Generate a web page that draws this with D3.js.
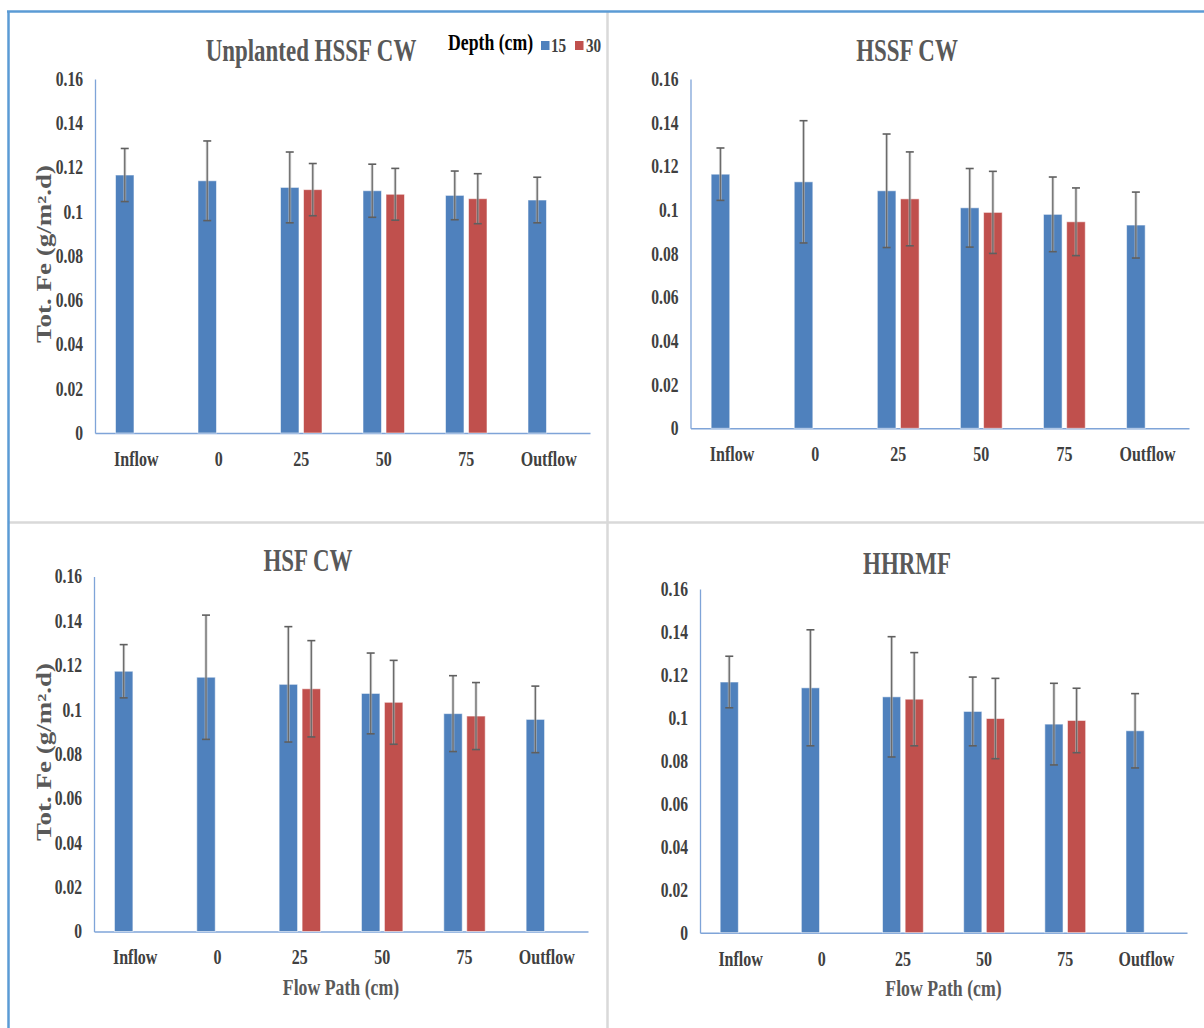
<!DOCTYPE html>
<html>
<head>
<meta charset="utf-8">
<script src="https://cdn.jsdelivr.net/npm/d3@7"></script>
<style>
  html, body { margin: 0; padding: 0; background: #ffffff; }
  svg { display: block; }
</style>
</head>
<body>
<svg id="chart" width="1204" height="1028"></svg>
<script>
// ---------------- DATA ----------------
const categories = ["Inflow", "0", "25", "50", "75", "Outflow"];
const yTicks = [0, 0.02, 0.04, 0.06, 0.08, 0.1, 0.12, 0.14, 0.16];
const legendTitle = "Depth (cm)";
const seriesNames = ["15", "30"];
const panelTitles = ["Unplanted HSSF CW", "HSSF CW", "HSF CW", "HHRMF"];
const yAxisTitle = "Tot. Fe (g/m\u00B2.d)";
const xAxisTitle = "Flow Path (cm)";

// Unplanted HSSF CW
const unplanted15    = [0.1166, 0.1140, 0.1110, 0.1095, 0.1074, 0.1053];
const unplanted15Err = [0.0120, 0.0180, 0.0160, 0.0120, 0.0110, 0.0103];
const unplanted30    = [null, null, 0.1100, 0.1079, 0.1059, null];
const unplanted30Err = [null, null, 0.0118, 0.0117, 0.0113, null];

// HSSF CW
const hssf15    = [0.1164, 0.1129, 0.1088, 0.1010, 0.0980, 0.0931];
const hssf15Err = [0.0120, 0.0280, 0.0260, 0.0180, 0.0171, 0.0151];
const hssf30    = [null, null, 0.1051, 0.0989, 0.0946, null];
const hssf30Err = [null, null, 0.0215, 0.0188, 0.0155, null];

// HSF CW
const hsf15    = [0.1173, 0.1146, 0.1114, 0.1073, 0.0982, 0.0956];
const hsf15Err = [0.0120, 0.0280, 0.0260, 0.0182, 0.0171, 0.0150];
const hsf30    = [null, null, 0.1094, 0.1033, 0.0971, null];
const hsf30Err = [null, null, 0.0217, 0.0189, 0.0151, null];

// HHRMF
const hhrmf15    = [0.1167, 0.1140, 0.1098, 0.1030, 0.0971, 0.0940];
const hhrmf15Err = [0.0120, 0.0270, 0.0280, 0.0160, 0.0190, 0.0173];
const hhrmf30    = [null, null, 0.1087, 0.0997, 0.0988, null];
const hhrmf30Err = [null, null, 0.0217, 0.0187, 0.0150, null];

// ---------------- STYLE / LAYOUT ----------------
const COLORS = ["#4F81BD", "#C0504D"];
const FONT = "'Liberation Serif', 'Times New Roman', serif";
const SX = 0.74;   // horizontal compression of titles
const SXL = 0.78;  // horizontal compression of tick / category labels

const panels = [
  { title: panelTitles[0], s15: unplanted15, e15: unplanted15Err, s30: unplanted30, e30: unplanted30Err,
    x0: 95, x1: 590, yTop: 79, yZero: 433, titleX: 311, titleY: 61, yTitle: true, xTitle: false, legend: true },
  { title: panelTitles[1], s15: hssf15, e15: hssf15Err, s30: hssf30, e30: hssf30Err,
    x0: 690.5, x1: 1189, yTop: 79, yZero: 428.3, titleX: 907, titleY: 61, yTitle: false, xTitle: false, legend: false },
  { title: panelTitles[2], s15: hsf15, e15: hsf15Err, s30: hsf30, e30: hsf30Err,
    x0: 94, x1: 588, yTop: 576.5, yZero: 931.5, titleX: 308, titleY: 571, yTitle: true, xTitle: true, legend: false },
  { title: panelTitles[3], s15: hhrmf15, e15: hhrmf15Err, s30: hhrmf30, e30: hhrmf30Err,
    x0: 700, x1: 1187, yTop: 589, yZero: 932.7, titleX: 907, titleY: 574, yTitle: false, xTitle: true, legend: false }
];

const svg = d3.select("#chart");

// frame
svg.append("rect").attr("x", 0).attr("y", 0).attr("width", 1204).attr("height", 1028).attr("fill", "#fff");
svg.append("line").attr("x1", 607.5).attr("x2", 607.5).attr("y1", 12).attr("y2", 1028)
  .attr("stroke", "#d9d9d9").attr("stroke-width", 2.5);
svg.append("line").attr("x1", 9).attr("x2", 1204).attr("y1", 522.5).attr("y2", 522.5)
  .attr("stroke", "#d9d9d9").attr("stroke-width", 2.5);
svg.append("line").attr("x1", 7).attr("x2", 1204).attr("y1", 11.5).attr("y2", 11.5)
  .attr("stroke", "#5B9BD5").attr("stroke-width", 2.5);
svg.append("line").attr("x1", 8.5).attr("x2", 8.5).attr("y1", 11).attr("y2", 1028)
  .attr("stroke", "#5B9BD5").attr("stroke-width", 2.5);

function label(parent, x, y, str, opts) {
  const o = Object.assign({ size: 16, fill: "#404040", anchor: "middle", sx: SX }, opts || {});
  return parent.append("text")
    .attr("transform", `translate(${x},${y}) scale(${o.sx},1)`)
    .attr("text-anchor", o.anchor)
    .attr("font-family", FONT)
    .attr("font-weight", "bold")
    .attr("font-size", o.size)
    .attr("fill", o.fill)
    .text(str);
}

panels.forEach(p => {
  const g = svg.append("g");
  const x = d3.scaleBand().domain(categories).range([p.x0, p.x1]).padding(0);
  const y = d3.scaleLinear().domain([0, 0.16]).range([p.yZero, p.yTop]);
  const bw = x.bandwidth();
  const barW = bw * 0.224;
  const off = bw * 0.1395;

  // axes
  const yAxis = d3.axisLeft(y).tickValues(yTicks).tickSize(0)
    .tickFormat(d => d === 0 ? "0" : String(+d.toFixed(2)));
  const ya = g.append("g").attr("transform", `translate(${p.x0},0)`).call(yAxis);
  ya.select(".domain").attr("stroke", "#7FA4D8").attr("stroke-width", 1.3);
  ya.selectAll("text")
    .attr("x", -12 / SXL)
    .attr("transform", `scale(${SXL},1)`)
    .attr("font-family", FONT).attr("font-weight", "bold").attr("font-size", 20)
    .attr("fill", "#404040");

  const xAxis = d3.axisBottom(x).tickSize(0);
  const xa = g.append("g").attr("transform", `translate(0,${p.yZero})`).call(xAxis);
  xa.select(".domain").attr("stroke", "#7FA4D8").attr("stroke-width", 1.5);
  xa.selectAll("text")
    .attr("y", 33).attr("dy", 0)
    .attr("transform", `scale(${SXL},1)`)
    .attr("font-family", FONT).attr("font-weight", "bold").attr("font-size", 20.5)
    .attr("fill", "#404040");

  // bars + error bars
  const series = [
    { vals: p.s15, errs: p.e15, color: COLORS[0], dx: -off },
    { vals: p.s30, errs: p.e30, color: COLORS[1], dx: off }
  ];
  series.forEach(s => {
    const data = categories.map((c, i) => ({ c, v: s.vals[i], e: s.errs[i] })).filter(d => d.v != null);
    g.append("g").selectAll("rect").data(data).join("rect")
      .attr("x", d => x(d.c) + bw / 2 + s.dx - barW / 2)
      .attr("y", d => y(d.v))
      .attr("width", barW)
      .attr("height", d => y(0) - y(d.v))
      .attr("fill", s.color)
      .attr("stroke", "rgba(255,255,255,0.55)")
      .attr("stroke-width", 1);

    const eg = g.append("g").selectAll("g").data(data).join("g")
      .attr("transform", d => `translate(${x(d.c) + bw / 2 + s.dx},0)`);
    eg.append("line").attr("x1", 0).attr("x2", 0)
      .attr("y1", d => y(d.v + d.e)).attr("y2", d => y(d.v - d.e))
      .attr("stroke", "#bfbfbf").attr("stroke-width", 3).attr("opacity", 0.6);
    eg.append("line").attr("x1", 0).attr("x2", 0)
      .attr("y1", d => y(d.v + d.e)).attr("y2", d => y(d.v - d.e))
      .attr("stroke", "#6b6b6b").attr("stroke-width", 1.3);
    [1, -1].forEach(sgn => {
      eg.append("line").attr("x1", -4).attr("x2", 4)
        .attr("y1", d => y(d.v + sgn * d.e)).attr("y2", d => y(d.v + sgn * d.e))
        .attr("stroke", "#5f5f5f").attr("stroke-width", 1.6);
    });
  });

  // title
  label(g, p.titleX, p.titleY, p.title, { size: 31, fill: "#595959" });

  if (p.yTitle) {
    const cy = (p.yTop + p.yZero) / 2 - 2;
    g.append("text")
      .attr("transform", `translate(51,${cy}) rotate(-90) scale(1,${SX})`)
      .attr("text-anchor", "middle")
      .attr("font-family", FONT).attr("font-weight", "bold").attr("font-size", 27)
      .attr("fill", "#595959")
      .text(yAxisTitle);
  }
  if (p.xTitle) {
    label(g, (p.x0 + p.x1) / 2, p.yZero + 63, xAxisTitle, { size: 24, fill: "#595959" });
  }
  if (p.legend) {
    const lg = g.append("g");
    label(lg, 448, 50, legendTitle, { size: 23, fill: "#000", anchor: "start", sx: 0.77 });
    const items = [
      { name: seriesNames[0], color: COLORS[0], sqX: 541, txX: 551 },
      { name: seriesNames[1], color: COLORS[1], sqX: 575, txX: 586 }
    ];
    items.forEach(it => {
      lg.append("rect").attr("x", it.sqX).attr("y", 41).attr("width", 8.5).attr("height", 9).attr("fill", it.color);
      label(lg, it.txX, 51.5, it.name, { size: 19, fill: "#404040", anchor: "start", sx: 0.8 });
    });
  }
});
</script>
</body>
</html>
